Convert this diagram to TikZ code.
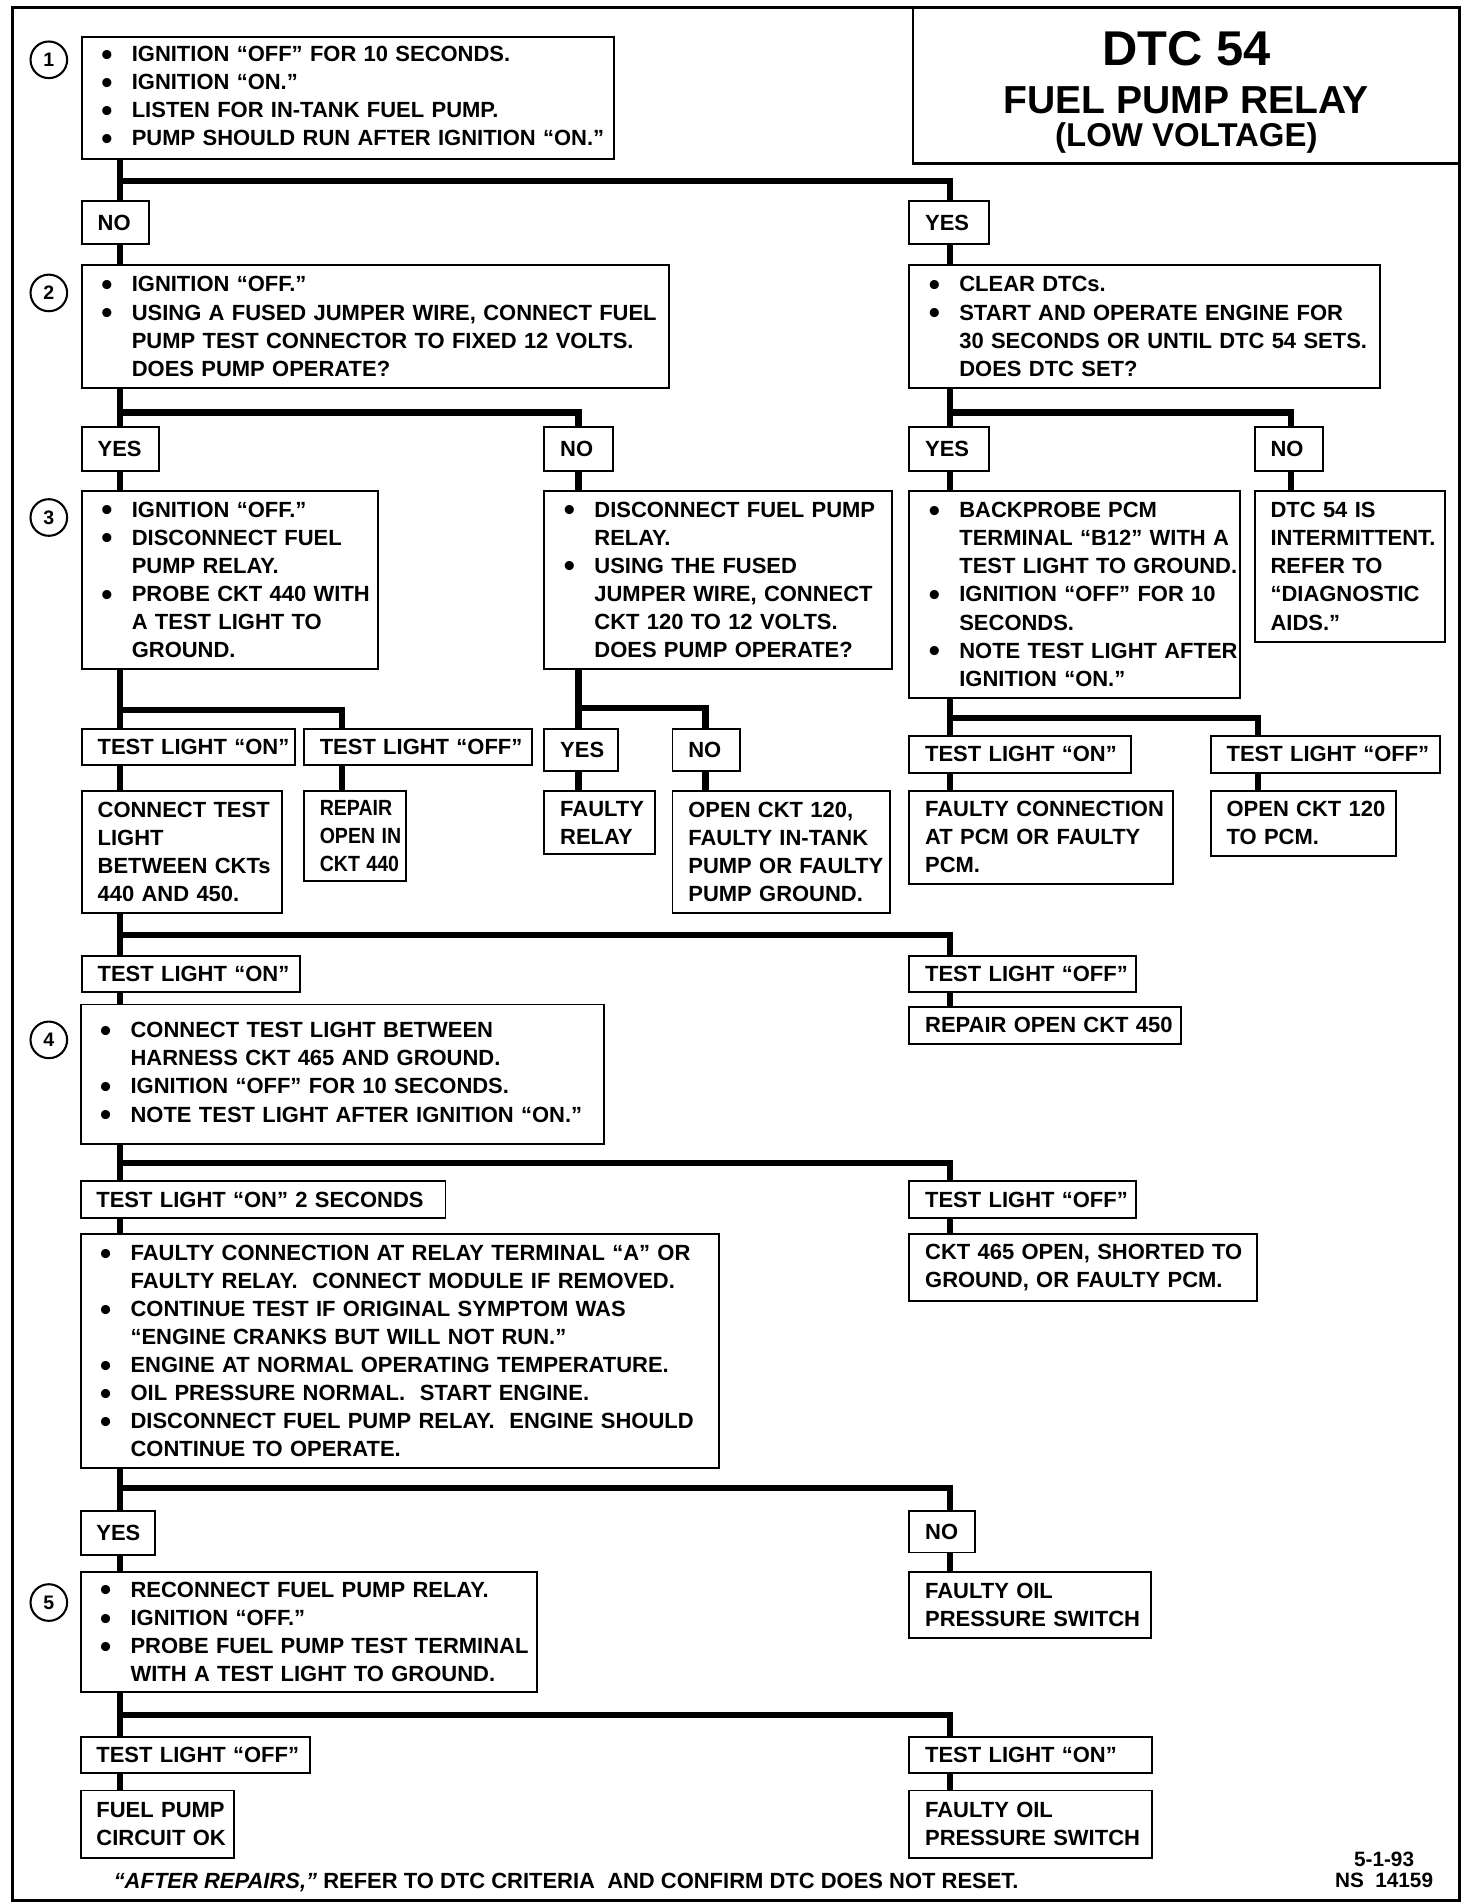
\documentclass[tikz,border=0pt]{standalone}
\usepackage{fontspec}
\usepackage{graphicx}
\setmainfont{Liberation Sans}
\newcommand\dotb{\raisebox{-3pt}{\fontsize{26}{26}\selectfont\textbullet}}
\newcommand\B[1]{\makebox[28pt][l]{\hspace{3pt}\dotb}\mbox{#1}}
\newcommand\C[1]{\hspace*{28pt}\mbox{#1}}
\newcommand\T[1]{\mbox{#1}}
\newcommand\Tn[1]{\scalebox{0.89}[1]{#1}}
\newcommand\bx[6]{%
  \pgfmathsetmacro\bxw{#4-#2}%
  \pgfmathsetmacro\bxh{#5-#3}%
  \pgfmathsetmacro\bxt{#4-#2-26}%
  \node[box, minimum width=\bxw pt, minimum height=\bxh pt, text width=\bxt pt] (#1) at ({(#2+#4)/2},{(#3+#5)/2}) {#6};}
\begin{document}
\begin{tikzpicture}[x=1pt,y=-1pt,
  box/.style={draw, line width=1.6pt, rectangle, inner xsep=13pt, inner ysep=0pt, align=left,
    font=\fontsize{18}{23}\selectfont\bfseries, anchor=center},
  conn/.style={line width=5pt, line join=miter},
  num/.style={draw, circle, line width=1.7pt, minimum size=30pt, inner sep=0pt,
    font=\fontsize{16}{16}\selectfont\bfseries}]
\useasboundingbox (0,0) rectangle (1206,1560);
\draw[line width=2.5pt] (10,6) rectangle (1196,1557);
\draw[line width=1.8pt] (748,6) rectangle (1196,134);
\node[font=\fontsize{40}{40}\selectfont\bfseries] (t1) at (972,40) {DTC 54};
\node[font=\fontsize{32}{32}\selectfont\bfseries] (t2) at (972,82) {FUEL PUMP RELAY};
\node[font=\fontsize{27}{27}\selectfont\bfseries] (t3) at (972,113) {(LOW VOLTAGE)};

\coordinate (L) at (98,0);
\coordinate (R) at (778,0);
\coordinate (M) at (474,0);
\coordinate (N3) at (578,0);
\coordinate (O3) at (280,0);
\coordinate (P3) at (1031,0);
\coordinate (Q2) at (1058,0);

\node[num] (c1) at (40,49) {1};
\node[num] (c2) at (40,240) {2};
\node[num] (c3) at (40,424) {3};
\node[num] (c4) at (40,852) {4};
\node[num] (c5) at (40,1313) {5};

\bx{b1}{67}{30}{503}{130}{\B{IGNITION “OFF” FOR 10 SECONDS.}\\\B{IGNITION “ON.”}\\\B{LISTEN FOR IN-TANK FUEL PUMP.}\\\B{PUMP SHOULD RUN AFTER IGNITION “ON.”}}
\bx{no1}{67}{165}{122}{200}{\T{NO}}
\bx{yes1}{745}{165}{810}{200}{\T{YES}}
\bx{b2}{67}{217}{548}{318}{\B{IGNITION “OFF.”}\\\B{USING A FUSED JUMPER WIRE, CONNECT FUEL}\\\C{PUMP TEST CONNECTOR TO FIXED 12 VOLTS.}\\\C{DOES PUMP OPERATE?}}
\bx{b2r}{745}{217}{1131}{318}{\B{CLEAR DTCs.}\\\B{START AND OPERATE ENGINE FOR}\\\C{30 SECONDS OR UNTIL DTC 54 SETS.}\\\C{DOES DTC SET?}}
\bx{yes2}{67}{350}{130}{386}{\T{YES}}
\bx{no2}{446}{350}{502}{386}{\T{NO}}
\bx{yes2r}{745}{350}{810}{386}{\T{YES}}
\bx{no2r}{1028}{350}{1084}{386}{\T{NO}}
\bx{b3}{67}{402}{310}{548}{\B{IGNITION “OFF.”}\\\B{DISCONNECT FUEL}\\\C{PUMP RELAY.}\\\B{PROBE CKT 440 WITH}\\\C{A TEST LIGHT TO}\\\C{GROUND.}}
\bx{b3b}{446}{402}{731}{548}{\B{DISCONNECT FUEL PUMP}\\\C{RELAY.}\\\B{USING THE FUSED}\\\C{JUMPER WIRE, CONNECT}\\\C{CKT 120 TO 12 VOLTS.}\\\C{DOES PUMP OPERATE?}}
\bx{b3c}{745}{402}{1016}{572}{\B{BACKPROBE PCM}\\\C{TERMINAL “B12” WITH A}\\\C{TEST LIGHT TO GROUND.}\\\B{IGNITION “OFF” FOR 10}\\\C{SECONDS.}\\\B{NOTE TEST LIGHT AFTER}\\\C{IGNITION “ON.”}}
\bx{b3d}{1028}{402}{1184}{526}{\T{DTC 54 IS}\\\T{INTERMITTENT.}\\\T{REFER TO}\\\T{“DIAGNOSTIC}\\\T{AIDS.”}}
\bx{tlon3}{67}{597}{242}{627}{\T{TEST LIGHT “ON”}}
\bx{tloff3}{249}{597}{436}{627}{\T{TEST LIGHT “OFF”}}
\bx{yes3}{446}{597}{506}{632}{\T{YES}}
\bx{no3}{551}{597}{606}{632}{\T{NO}}
\bx{tlon3c}{745}{603}{927}{633}{\T{TEST LIGHT “ON”}}
\bx{tloff3c}{992}{603}{1180}{633}{\T{TEST LIGHT “OFF”}}
\bx{conn3}{67}{648}{231}{748}{\T{CONNECT TEST}\\\T{LIGHT}\\\T{BETWEEN CKTs}\\\T{440 AND 450.}}
\bx{rep440}{249}{648}{333}{722}{\Tn{REPAIR}\\\Tn{OPEN IN}\\\Tn{CKT 440}}
\bx{frelay}{446}{648}{537}{700}{\T{FAULTY}\\\T{RELAY}}
\bx{open120}{551}{648}{729}{748}{\T{OPEN CKT 120,}\\\T{FAULTY IN-TANK}\\\T{PUMP OR FAULTY}\\\T{PUMP GROUND.}}
\bx{fconn}{745}{648}{961}{724}{\T{FAULTY CONNECTION}\\\T{AT PCM OR FAULTY}\\\T{PCM.}}
\bx{open120p}{992}{648}{1144}{701}{\T{OPEN CKT 120}\\\T{TO PCM.}}
\bx{tlon4}{67}{783}{246}{813}{\T{TEST LIGHT “ON”}}
\bx{tloff4}{745}{783}{931}{813}{\T{TEST LIGHT “OFF”}}
\bx{rep450}{745}{825}{968}{855}{\T{REPAIR OPEN CKT 450}}
\bx{b4}{66}{823}{495}{937}{\B{CONNECT TEST LIGHT BETWEEN}\\\C{HARNESS CKT 465 AND GROUND.}\\\B{IGNITION “OFF” FOR 10 SECONDS.}\\\B{NOTE TEST LIGHT AFTER IGNITION “ON.”}}
\bx{tlon2s}{66}{968}{365}{998}{\T{TEST LIGHT “ON” 2 SECONDS}}
\bx{tloff5}{745}{968}{931}{998}{\T{TEST LIGHT “OFF”}}
\bx{b6}{66}{1011}{589}{1203}{\B{FAULTY CONNECTION AT RELAY TERMINAL “A” OR}\\\C{FAULTY RELAY.\ \ CONNECT MODULE IF REMOVED.}\\\B{CONTINUE TEST IF ORIGINAL SYMPTOM WAS}\\\C{“ENGINE CRANKS BUT WILL NOT RUN.”}\\\B{ENGINE AT NORMAL OPERATING TEMPERATURE.}\\\B{OIL PRESSURE NORMAL.\ \ START ENGINE.}\\\B{DISCONNECT FUEL PUMP RELAY.\ \ ENGINE SHOULD}\\\C{CONTINUE TO OPERATE.}}
\bx{ckt465}{745}{1011}{1030}{1066}{\T{CKT 465 OPEN, SHORTED TO}\\\T{GROUND, OR FAULTY PCM.}}
\bx{yes6}{66}{1238}{127}{1274}{\T{YES}}
\bx{no6}{745}{1238}{799}{1272}{\T{NO}}
\bx{b5}{66}{1288}{440}{1386}{\B{RECONNECT FUEL PUMP RELAY.}\\\B{IGNITION “OFF.”}\\\B{PROBE FUEL PUMP TEST TERMINAL}\\\C{WITH A TEST LIGHT TO GROUND.}}
\bx{foil1}{745}{1288}{943}{1342}{\T{FAULTY OIL}\\\T{PRESSURE SWITCH}}
\bx{tloff7}{66}{1423}{254}{1453}{\T{TEST LIGHT “OFF”}}
\bx{tlon7}{745}{1423}{944}{1453}{\T{TEST LIGHT “ON”}}
\bx{fpok}{66}{1467}{192}{1522}{\T{FUEL PUMP}\\\T{CIRCUIT OK}}
\bx{foil2}{745}{1467}{944}{1522}{\T{FAULTY OIL}\\\T{PRESSURE SWITCH}}

\node[anchor=west, inner sep=0pt, font=\fontsize{18}{18}\selectfont\bfseries] (foot) at (93,1542)
  {\textit{“AFTER REPAIRS,”} REFER TO DTC CRITERIA\ \ AND CONFIRM DTC DOES NOT RESET.};
\node[align=center, inner sep=0pt, font=\fontsize{17}{18}\selectfont\bfseries] (code) at (1134,1532) {5-1-93\\NS\ \ 14159};

% connectors
\coordinate (j1) at (98,148);
\coordinate (j2) at (98,338);
\coordinate (j2r) at (778,338);
\coordinate (j3) at (98,582);
\coordinate (j3b) at (474,580);
\coordinate (j3c) at (778,588);
\coordinate (j4) at (98,766);
\coordinate (j5) at (98,953);
\coordinate (j6) at (98,1219);
\coordinate (j7) at (98,1405);

\draw[conn] (b1.south -| L) -- (no1.north -| L);
\draw[conn] (j1) -| (yes1.north -| R);
\draw[conn] (no1.south -| L) -- (b2.north -| L);
\draw[conn] (yes1.south -| R) -- (b2r.north -| R);

\draw[conn] (b2.south -| L) -- (yes2.north -| L);
\draw[conn] (j2) -| (no2.north -| M);
\draw[conn] (b2r.south -| R) -- (yes2r.north -| R);
\draw[conn] (j2r) -| (no2r.north -| Q2);

\draw[conn] (yes2.south -| L) -- (b3.north -| L);
\draw[conn] (no2.south -| M) -- (b3b.north -| M);
\draw[conn] (yes2r.south -| R) -- (b3c.north -| R);
\draw[conn] (no2r.south -| Q2) -- (b3d.north -| Q2);

\draw[conn] (b3.south -| L) -- (tlon3.north -| L);
\draw[conn] (j3) -| (tloff3.north -| O3);
\draw[conn] (b3b.south -| M) -- (yes3.north -| M);
\draw[conn] (j3b) -| (no3.north -| N3);
\draw[conn] (b3c.south -| R) -- (tlon3c.north -| R);
\draw[conn] (j3c) -| (tloff3c.north -| P3);

\draw[conn] (tlon3.south -| L) -- (conn3.north -| L);
\draw[conn] (tloff3.south -| O3) -- (rep440.north -| O3);
\draw[conn] (yes3.south -| M) -- (frelay.north -| M);
\draw[conn] (no3.south -| N3) -- (open120.north -| N3);
\draw[conn] (tlon3c.south -| R) -- (fconn.north -| R);
\draw[conn] (tloff3c.south -| P3) -- (open120p.north -| P3);

\draw[conn] (conn3.south -| L) -- (tlon4.north -| L);
\draw[conn] (j4) -| (tloff4.north -| R);
\draw[conn] (tloff4.south -| R) -- (rep450.north -| R);
\draw[conn] (tlon4.south -| L) -- (b4.north -| L);

\draw[conn] (b4.south -| L) -- (tlon2s.north -| L);
\draw[conn] (j5) -| (tloff5.north -| R);
\draw[conn] (tlon2s.south -| L) -- (b6.north -| L);
\draw[conn] (tloff5.south -| R) -- (ckt465.north -| R);

\draw[conn] (b6.south -| L) -- (yes6.north -| L);
\draw[conn] (j6) -| (no6.north -| R);
\draw[conn] (yes6.south -| L) -- (b5.north -| L);
\draw[conn] (no6.south -| R) -- (foil1.north -| R);

\draw[conn] (b5.south -| L) -- (tloff7.north -| L);
\draw[conn] (j7) -| (tlon7.north -| R);
\draw[conn] (tloff7.south -| L) -- (fpok.north -| L);
\draw[conn] (tlon7.south -| R) -- (foil2.north -| R);
\end{tikzpicture}
\end{document}
